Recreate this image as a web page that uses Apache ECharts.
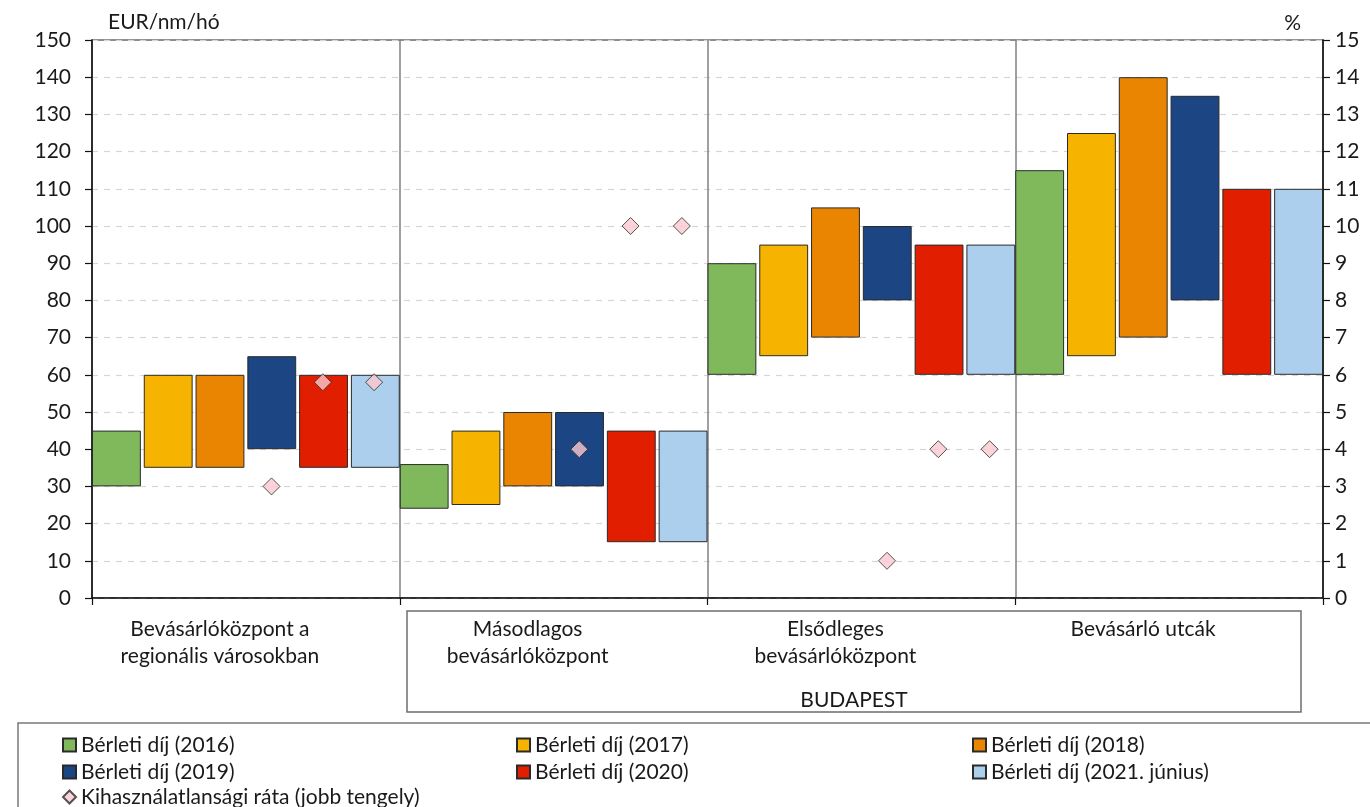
<!DOCTYPE html>
<html>
<head>
<meta charset="utf-8">
<script src="https://cdn.jsdelivr.net/npm/echarts@6/dist/echarts.min.js"></script>
<style>
  html, body { margin: 0; padding: 0; background: #ffffff; }
  #chart { width: 1370px; height: 807px; }
</style>
</head>
<body>
<div id="chart"></div>
<script>
// Office rent ranges (EUR/nm/hó) by location type and year, plus vacancy rate (%)
const categories = [
  'Bevásárlóközpont a\nregionális városokban',
  'Másodlagos\nbevásárlóközpont',
  'Elsődleges\nbevásárlóközpont',
  'Bevásárló utcák'
];

const seriesNames = [
  'Bérleti díj (2016)',
  'Bérleti díj (2017)',
  'Bérleti díj (2018)',
  'Bérleti díj (2019)',
  'Bérleti díj (2020)',
  'Bérleti díj (2021. június)'
];
const vacancyName = 'Kihasználatlansági ráta (jobb tengely)';

// lower and upper ends of each rent range
const rentLow2016  = [30, 24, 60, 60];
const rentHigh2016 = [45, 36, 90, 115];
const rentLow2017  = [35, 25, 65, 65];
const rentHigh2017 = [60, 45, 95, 125];
const rentLow2018  = [35, 30, 70, 70];
const rentHigh2018 = [60, 50, 105, 140];
const rentLow2019  = [40, 30, 80, 80];
const rentHigh2019 = [65, 50, 100, 135];
const rentLow2020  = [35, 15, 60, 60];
const rentHigh2020 = [60, 45, 95, 110];
const rentLow2021  = [35, 15, 60, 60];
const rentHigh2021 = [60, 45, 95, 110];

// vacancy rate, right axis (%); shown in the 2019, 2020 and 2021 slots
const vacancy2019 = [3, 4, 1, null];
const vacancy2020 = [5.8, 10, 4, null];
const vacancy2021 = [5.8, 10, 4, null];

const leftTicks = { min: 0, max: 150, interval: 10 };
const rightTicks = { min: 0, max: 15, interval: 1 };

const colors = ['#80b95b', '#f6b400', '#e98500', '#1b4583', '#e11f00', '#abcfed'];
const lows = [rentLow2016, rentLow2017, rentLow2018, rentLow2019, rentLow2020, rentLow2021];
const highs = [rentHigh2016, rentHigh2017, rentHigh2018, rentHigh2019, rentHigh2020, rentHigh2021];
const vacancyByYear = { 3: vacancy2019, 4: vacancy2020, 5: vacancy2021 };

const FONT = 'Lato';
const TEXT = '#1a1a1a';
const FS = 21;

const series = [];
seriesNames.forEach((name, k) => {
  // invisible base so each bar floats from its lower bound
  series.push({
    name: 'base' + k,
    type: 'bar',
    stack: 's' + k,
    data: lows[k],
    itemStyle: { color: 'rgba(0,0,0,0)', borderWidth: 0 },
    emphasis: { disabled: true },
    barGap: '6%',
    barCategoryGap: '0%',
    silent: true
  });
  series.push({
    name: name,
    type: 'bar',
    stack: 's' + k,
    data: highs[k].map((h, i) => h - lows[k][i]),
    itemStyle: { color: colors[k], borderColor: '#2a2a2a', borderWidth: 1 },
    barGap: '6%',
    barCategoryGap: '0%'
  });
});

// one slot per bar position on a hidden finer category axis
const slots = [];
categories.forEach((c, i) => seriesNames.forEach((s, k) => slots.push(i + '_' + k)));
const vacancyPoints = [];
categories.forEach((c, i) => {
  [3, 4, 5].forEach(k => {
    const v = vacancyByYear[k][i];
    if (v !== null) vacancyPoints.push([i * seriesNames.length + k, v]);
  });
});

series.push({
  name: vacancyName,
  type: 'scatter',
  xAxisIndex: 1,
  yAxisIndex: 1,
  symbol: 'diamond',
  symbolSize: [17, 17],
  data: vacancyPoints,
  itemStyle: { color: '#fbc8cf', borderColor: '#2a2a2a', borderWidth: 1 },
  z: 5
});

const legendPos = [
  { name: seriesNames[0], left: 62, top: 734 },
  { name: seriesNames[1], left: 516, top: 734 },
  { name: seriesNames[2], left: 972, top: 734 },
  { name: seriesNames[3], left: 62, top: 761 },
  { name: seriesNames[4], left: 516, top: 761 },
  { name: seriesNames[5], left: 972, top: 761 },
  { name: vacancyName, left: 62, top: 786 }
];
const legends = legendPos.map(p => ({
  data: [p.name === vacancyName ? { name: p.name, icon: 'diamond' } : { name: p.name, icon: 'rect' }],
  left: p.left,
  top: p.top,
  itemWidth: 13,
  itemHeight: 13,
  itemGap: 0,
  padding: 0,
  selectedMode: false,
  textStyle: { fontFamily: FONT, fontSize: FS, color: TEXT, lineHeight: 22, padding: [0, 0, 0, 0] }
}));

const chart = echarts.init(document.getElementById('chart'), null, { renderer: 'canvas' });
chart.setOption({
  animation: false,
  backgroundColor: '#ffffff',
  textStyle: { fontFamily: FONT },
  grid: { left: 92, right: 47, top: 40, bottom: 209, show: true, borderColor: '#6a6a6a', borderWidth: 1.5, backgroundColor: 'transparent' },
  legend: legends,
  xAxis: [
    {
      type: 'category',
      data: categories,
      boundaryGap: true,
      axisLine: { lineStyle: { color: '#111', width: 1.5 } },
      axisTick: { show: true, length: 7, lineStyle: { color: '#111', width: 1.2 } },
      splitLine: { show: true, lineStyle: { color: '#808080', width: 1.5 } },
      axisLabel: {
        interval: 0,
        margin: 18,
        fontFamily: FONT,
        fontSize: FS,
        lineHeight: 27,
        color: TEXT,
        verticalAlign: 'top',
        padding: [0, 52, 0, 0]
      }
    },
    {
      type: 'category',
      data: slots,
      boundaryGap: true,
      show: false,
      gridIndex: 0
    }
  ],
  yAxis: [
    {
      type: 'value',
      min: leftTicks.min,
      max: leftTicks.max,
      interval: leftTicks.interval,
      name: 'EUR/nm/hó',
      nameLocation: 'end',
      nameGap: 7,
      nameTextStyle: { fontFamily: FONT, fontSize: FS, color: TEXT, align: 'left', padding: [0, 0, 0, 16] },
      axisLine: { show: true, lineStyle: { color: '#111', width: 1.5 } },
      axisTick: { show: true, length: 7, lineStyle: { color: '#111', width: 1.2 } },
      axisLabel: { fontFamily: FONT, fontSize: FS, color: TEXT, margin: 21 },
      splitLine: { show: true, lineStyle: { color: '#d6d6d6', type: [6, 6], width: 1.2 } }
    },
    {
      type: 'value',
      position: 'right',
      min: rightTicks.min,
      max: rightTicks.max,
      interval: rightTicks.interval,
      name: '%',
      nameLocation: 'end',
      nameGap: 6,
      nameTextStyle: { fontFamily: FONT, fontSize: FS, color: TEXT, align: 'right', padding: [0, 22, 0, 0] },
      axisLine: { show: true, lineStyle: { color: '#111', width: 1.5 } },
      axisTick: { show: true, length: 7, lineStyle: { color: '#111', width: 1.2 } },
      axisLabel: { fontFamily: FONT, fontSize: FS, color: TEXT, margin: 12 },
      splitLine: { show: false }
    }
  ],
  series: series,
  graphic: [
    {
      type: 'rect',
      shape: { x: 407, y: 611, width: 894, height: 101 },
      style: { fill: 'none', stroke: '#6e6e6e', lineWidth: 1.5 },
      silent: true
    },
    {
      type: 'text',
      x: 854,
      y: 700,
      style: { text: 'BUDAPEST', fontFamily: FONT, fontSize: FS, fill: TEXT, align: 'center', verticalAlign: 'middle' },
      silent: true
    },
    {
      type: 'rect',
      shape: { x: 18, y: 723, width: 1400, height: 120 },
      style: { fill: 'none', stroke: '#7a7a7a', lineWidth: 1.5 },
      silent: true
    }
  ]
});
</script>
</body>
</html>
